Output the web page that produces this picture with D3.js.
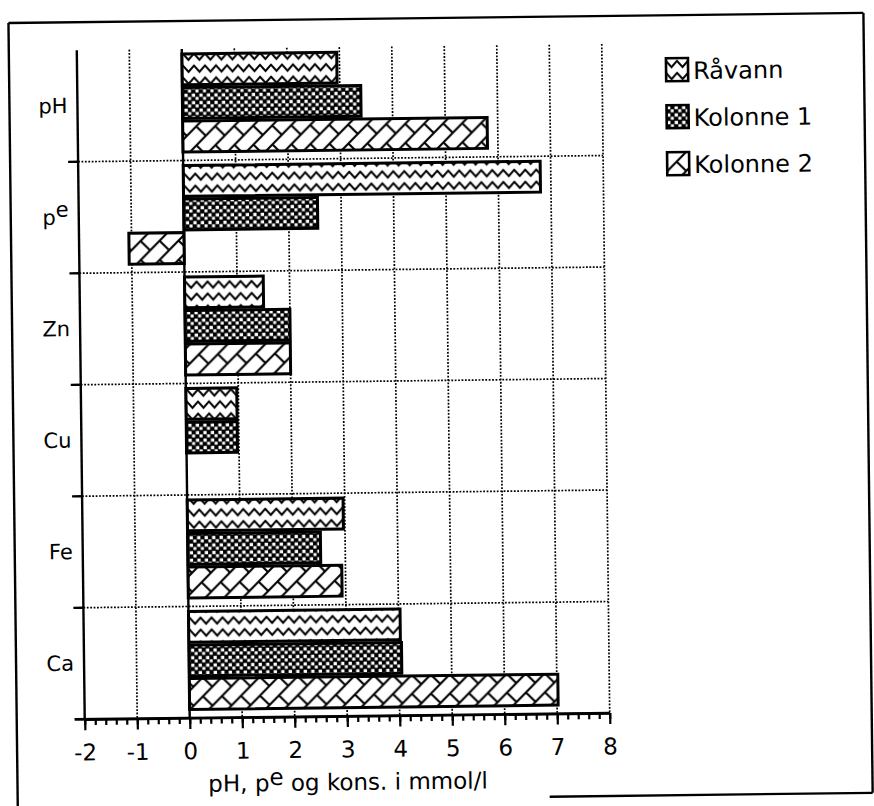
<!DOCTYPE html>
<html>
<head>
<meta charset="utf-8">
<script src="https://cdn.jsdelivr.net/npm/d3@7"></script>
<style>
  html, body { margin: 0; padding: 0; background: #fff; }
  svg { display: block; }
  text { font-family: "DejaVu Sans", Verdana, sans-serif; fill: #000; }
</style>
</head>
<body>
<div id="chart"></div>
<script>
// ---- data ----
const categories = ["pH", "pe", "Zn", "Cu", "Fe", "Ca"];
const seriesNames = ["Råvann", "Kolonne 1", "Kolonne 2"];
const raavann  = [2.95, 6.8, 1.5, 0.97, 2.97, 4.03];
const kolonne1 = [3.4, 2.55, 2.0, 0.97, 2.53, 4.05];
const kolonne2 = [5.8, -1.05, 2.0, 0, 2.93, 7.02];
const xTickValues = [-2, -1, 0, 1, 2, 3, 4, 5, 6, 7, 8];
const xTitle = ["pH, p", "e", " og kons. i mmol/l"];

const seriesValues = [raavann, kolonne1, kolonne2];
const rows = [];
categories.forEach((c, i) => {
  seriesNames.forEach((s, j) => rows.push({ cat: c, ser: s, si: j, v: seriesValues[j][i] }));
});

// ---- layout ----
const W = 874, H = 806;
const svg = d3.select("#chart").append("svg").attr("width", W).attr("height", H);
svg.append("rect").attr("width", W).attr("height", H).attr("fill", "#fff");

// patterns
const defs = svg.append("defs");
const p0 = defs.append("pattern").attr("id", "pat0").attr("patternUnits", "userSpaceOnUse")
  .attr("width", 11).attr("height", 12);
p0.append("rect").attr("width", 11).attr("height", 12).attr("fill", "#fff");
p0.append("path").attr("d", "M-0.5,2.2 L5.5,9 L11.5,2.2").attr("fill", "none")
  .attr("stroke", "#000").attr("stroke-width", 2);

const p1 = defs.append("pattern").attr("id", "pat1").attr("patternUnits", "userSpaceOnUse")
  .attr("width", 7.5).attr("height", 7.5);
p1.append("rect").attr("width", 7.5).attr("height", 7.5).attr("fill", "#000");
p1.append("rect").attr("x", 0.5).attr("y", 0.7).attr("width", 3.3).attr("height", 3.3).attr("fill", "#fff");
p1.append("rect").attr("x", 4.2).attr("y", 4.1).attr("width", 3.0).attr("height", 3.0).attr("fill", "#fff");

const p2 = defs.append("pattern").attr("id", "pat2").attr("patternUnits", "userSpaceOnUse")
  .attr("width", 19).attr("height", 19);
p2.append("rect").attr("width", 19).attr("height", 19).attr("fill", "#fff");
p2.append("path").attr("d", "M-1,20 L20,-1 M9.5,9.5 L19,19 M-1,1 L1,-1 M18,20 L20,18")
  .attr("fill", "none").attr("stroke", "#000").attr("stroke-width", 2.1);

const g = svg.append("g").attr("transform", "rotate(-0.68,437,403)");

// frame
const frame = g.append("g").attr("stroke", "#000").attr("stroke-width", 2.4).attr("fill", "none");
frame.append("line").attr("x1", 13).attr("y1", 18).attr("x2", 868).attr("y2", 18);
frame.append("line").attr("x1", 13).attr("y1", 18).attr("x2", 13).attr("y2", 806);
frame.append("line").attr("x1", 868).attr("y1", 18).attr("x2", 868).attr("y2", 798);
frame.append("line").attr("x1", 545).attr("y1", 798).attr("x2", 868).attr("y2", 798);

// scales
const x = d3.scaleLinear().domain([-2, 8]).range([81, 606]);
const y = d3.scaleBand().domain(categories).range([46, 715]);
const yInner = d3.scaleBand().domain(seriesNames).range([5, 103]).paddingInner(0.08);

// grid
const grid = g.append("g").attr("stroke", "#000").attr("stroke-width", 1.7)
  .attr("stroke-dasharray", "1.8,1.6").attr("fill", "none");
grid.selectAll("line.v").data(xTickValues.filter(d => d !== 0 && d !== -2)).join("line")
  .attr("x1", d => x(d)).attr("x2", d => x(d)).attr("y1", y.range()[0]).attr("y2", y.range()[1]);
grid.selectAll("line.h").data(categories.slice(1)).join("line")
  .attr("x1", x(-2)).attr("x2", x(8)).attr("y1", d => y(d)).attr("y2", d => y(d));

// bars
const bars = g.append("g");
bars.selectAll("rect").data(rows.filter(d => d.v !== 0)).join("rect")
  .attr("x", d => x(Math.min(0, d.v)))
  .attr("width", d => Math.abs(x(d.v) - x(0)))
  .attr("y", d => y(d.cat) + yInner(d.ser))
  .attr("height", yInner.bandwidth())
  .attr("fill", d => `url(#pat${d.si})`)
  .attr("stroke", "#000").attr("stroke-width", 3);

// zero line
g.append("line").attr("x1", x(0)).attr("x2", x(0)).attr("y1", y.range()[0]).attr("y2", y.range()[1])
  .attr("stroke", "#000").attr("stroke-width", 2.4);

// y axis line and boundary ticks
g.append("line").attr("x1", x(-2)).attr("x2", x(-2)).attr("y1", y.range()[0]).attr("y2", y.range()[1])
  .attr("stroke", "#000").attr("stroke-width", 2.4);
g.selectAll("line.yt").data(categories.slice(1).map(c => y(c)).concat([y.range()[1]])).join("line")
  .attr("x1", x(-2) - 10).attr("x2", x(-2)).attr("y1", d => d).attr("y2", d => d)
  .attr("stroke", "#000").attr("stroke-width", 2.4);

// category labels
const catLab = g.append("g").selectAll("text").data(categories).join("text")
  .attr("x", 71).attr("y", d => y(d) + y.bandwidth() / 2 + 7)
  .attr("text-anchor", "end").attr("font-size", 21);
catLab.each(function (d) {
  const t = d3.select(this);
  if (d === "pe") {
    t.append("tspan").text("p");
    t.append("tspan").attr("dy", -8).text("e");
  } else {
    t.text(d);
  }
});

// x axis
const minorTicks = d3.range(-20, 81, 2).map(v => v / 10);
const xAxisMinor = d3.axisBottom(x).tickValues(minorTicks).tickSize(6).tickSizeOuter(0).tickFormat("");
const xAxis = d3.axisBottom(x).tickValues(xTickValues).tickSize(11).tickSizeOuter(0)
  .tickPadding(14).tickFormat(d => String(d));
const ax1 = g.append("g").attr("transform", `translate(0,${y.range()[1]})`).call(xAxisMinor);
ax1.selectAll("line").attr("stroke", "#000").attr("stroke-width", 2.2);
ax1.select(".domain").remove();
const ax2 = g.append("g").attr("transform", `translate(0,${y.range()[1]})`).call(xAxis);
ax2.select(".domain").attr("stroke", "#000").attr("stroke-width", 2.4);
ax2.selectAll("line").attr("stroke", "#000").attr("stroke-width", 2.2);
ax2.selectAll("text").attr("font-size", 23).attr("font-family", '"DejaVu Sans", Verdana, sans-serif')
  .attr("fill", "#000");
g.append("line").attr("x1", x(-2) - 10).attr("x2", x(8)).attr("y1", y.range()[1]).attr("y2", y.range()[1])
  .attr("stroke", "#000").attr("stroke-width", 2.4);

// x title
const tt = g.append("text").attr("x", x(3)).attr("y", 789).attr("text-anchor", "middle").attr("font-size", 23);
tt.append("tspan").text(xTitle[0]);
tt.append("tspan").attr("dy", -6).text(xTitle[1]);
tt.append("tspan").attr("dy", 6).text(xTitle[2]);

// legend
const leg = g.append("g").selectAll("g").data(seriesNames).join("g")
  .attr("transform", (d, i) => `translate(670,${61 + i * 47})`);
leg.append("rect").attr("width", 22).attr("height", 23)
  .attr("fill", (d, i) => `url(#pat${i})`).attr("stroke", "#000").attr("stroke-width", 2.6);
leg.append("text").attr("x", 27).attr("y", 21).attr("font-size", 24).text(d => d);
</script>
</body>
</html>
